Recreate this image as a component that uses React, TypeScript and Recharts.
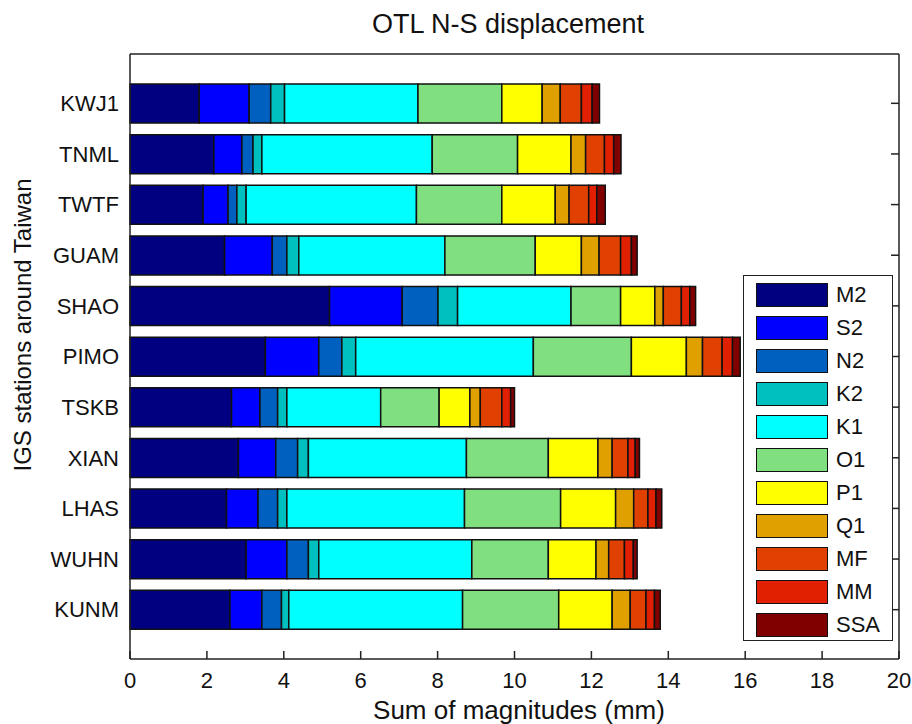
import { Bar, BarChart, Legend, XAxis, YAxis } from "recharts";

const stations = ["KWJ1", "TNML", "TWTF", "GUAM", "SHAO", "PIMO", "TSKB", "XIAN", "LHAS", "WUHN", "KUNM"];

const components = ["M2", "S2", "N2", "K2", "K1", "O1", "P1", "Q1", "MF", "MM", "SSA"];
const colors = ["#000080", "#0000FF", "#0060C0", "#00BFBF", "#00FFFF", "#80E080", "#FFFF00", "#E0A000", "#E04000", "#E02000", "#800000"];

const m2 = [1.80, 2.18, 1.90, 2.46, 5.19, 3.52, 2.64, 2.82, 2.51, 3.02, 2.60];
const s2 = [1.30, 0.73, 0.65, 1.24, 1.89, 1.39, 0.74, 0.97, 0.82, 1.06, 0.83];
const n2 = [0.56, 0.29, 0.23, 0.38, 0.93, 0.60, 0.46, 0.57, 0.51, 0.56, 0.51];
const k2 = [0.36, 0.23, 0.24, 0.31, 0.51, 0.36, 0.24, 0.28, 0.24, 0.27, 0.19];
const k1 = [3.47, 4.43, 4.43, 3.80, 2.95, 4.62, 2.44, 4.11, 4.62, 3.98, 4.52];
const o1 = [2.18, 2.22, 2.22, 2.35, 1.29, 2.55, 1.52, 2.13, 2.50, 1.99, 2.50];
const p1 = [1.05, 1.39, 1.39, 1.20, 0.89, 1.43, 0.80, 1.29, 1.43, 1.24, 1.39];
const q1 = [0.47, 0.38, 0.36, 0.46, 0.22, 0.42, 0.27, 0.37, 0.47, 0.33, 0.47];
const mf = [0.55, 0.49, 0.51, 0.56, 0.47, 0.51, 0.56, 0.41, 0.37, 0.41, 0.41];
const mm = [0.28, 0.24, 0.21, 0.28, 0.22, 0.27, 0.23, 0.19, 0.21, 0.23, 0.22];
const ssa = [0.19, 0.19, 0.22, 0.15, 0.15, 0.20, 0.10, 0.11, 0.15, 0.10, 0.15];

const xTicks = [0, 2, 4, 6, 8, 10, 12, 14, 16, 18, 20];

const series = [m2, s2, n2, k2, k1, o1, p1, q1, mf, mm, ssa];

const data = stations.map((station, i) => {
    const row: Record<string, string | number> = { station };
    components.forEach((c, j) => {
        row[c] = series[j][i];
    });
    return row;
});

const FONT = "'Liberation Sans', Arial, Helvetica, sans-serif";

const NoTick = () => <g />;

const OtlLegend = ({ payload }: any) => {
    // keep the stacking order, not the alphabetical one
    const items = [...(payload || [])].sort(
        (a: any, b: any) => components.indexOf(a.value) - components.indexOf(b.value)
    );
    return (
        <div
            style={{
                width: 150,
                height: 366,
                border: "1.5px solid #222",
                background: "#fff",
                boxSizing: "border-box",
                fontFamily: FONT,
                fontSize: 22,
                color: "#111",
                paddingTop: 2,
                overflow: "hidden",
            }}
        >
            {items.map((entry: any) => (
                <div key={entry.value} style={{ display: "flex", alignItems: "center", height: 33 }}>
                    <div
                        style={{
                            marginLeft: 12,
                            width: 72,
                            height: 24,
                            background: entry.color,
                            border: "1.5px solid #111",
                            boxSizing: "border-box",
                        }}
                    />
                    <span style={{ marginLeft: 8, lineHeight: "24px" }}>{entry.value}</span>
                </div>
            ))}
        </div>
    );
};

const App = () => {
    return (
        <div style={{ position: "absolute", left: 0, top: 0, width: 912, height: 724, background: "#fff" }}>
            <div
                style={{
                    position: "absolute",
                    left: 0,
                    width: 1016,
                    top: 8,
                    textAlign: "center",
                    fontFamily: FONT,
                    fontSize: 27,
                    color: "#111",
                    lineHeight: "32px",
                }}
            >
                OTL N-S displacement
            </div>
            <BarChart
                width={912}
                height={724}
                data={data}
                layout="vertical"
                margin={{ top: 54, right: 13, bottom: 35, left: 0 }}
                barSize={39}
            >
                {/* negative tick size: ticks point into the plot, like matlab */}
                <XAxis
                    type="number"
                    domain={[0, 20]}
                    ticks={xTicks}
                    height={30}
                    tickSize={-8}
                    tickMargin={21}
                    tickLine={{ stroke: "#222", strokeWidth: 1.5 }}
                    axisLine={{ stroke: "#222", strokeWidth: 1.5 }}
                    tick={{ fill: "#111", fontSize: 22, fontFamily: FONT }}
                    label={{
                        value: "Sum of magnitudes (mm)",
                        content: (props: any) => (
                            <text x={519} y={719} textAnchor="middle" fill="#111" fontSize={26} fontFamily={FONT}>
                                {props.value}
                            </text>
                        ),
                    }}
                />
                <XAxis
                    xAxisId="top"
                    type="number"
                    domain={[0, 20]}
                    ticks={xTicks}
                    orientation="top"
                    mirror
                    axisLine={{ stroke: "#222", strokeWidth: 1.5 }}
                    tickSize={8}
                    tickLine={{ stroke: "#222", strokeWidth: 1.5 }}
                    tick={NoTick}
                />
                <YAxis
                    type="category"
                    dataKey="station"
                    width={130}
                    padding={{ top: 24, bottom: 24 }}
                    tickLine={false}
                    tickMargin={5}
                    axisLine={{ stroke: "#222", strokeWidth: 1.5 }}
                    tick={{ fill: "#111", fontSize: 22, fontFamily: FONT }}
                    label={{
                        value: "IGS stations around Taiwan",
                        content: (props: any) => (
                            <text
                                x={22}
                                y={325}
                                textAnchor="middle"
                                dominantBaseline="central"
                                transform="rotate(-90 22 325)"
                                fill="#111"
                                fontSize={24}
                                fontFamily={FONT}
                            >
                                {props.value}
                            </text>
                        ),
                    }}
                />
                <YAxis
                    yAxisId="right"
                    type="category"
                    dataKey="station"
                    orientation="right"
                    mirror
                    padding={{ top: 24, bottom: 24 }}
                    axisLine={{ stroke: "#222", strokeWidth: 1.5 }}
                    tickSize={8}
                    tickLine={{ stroke: "#222", strokeWidth: 1.5 }}
                    tick={NoTick}
                />
                <Legend
                    layout="horizontal"
                    verticalAlign="middle"
                    align="center"
                    content={<OtlLegend />}
                    wrapperStyle={{ left: 743, top: 275, width: 152, height: 366 }}
                />
                {components.map((c, j) => (
                    <Bar
                        key={c}
                        dataKey={c}
                        name={c}
                        stackId="otl"
                        fill={colors[j]}
                        stroke="#111"
                        strokeWidth={1.5}
                        isAnimationActive={false}
                    />
                ))}
            </BarChart>
        </div>
    );
};

export default App;
